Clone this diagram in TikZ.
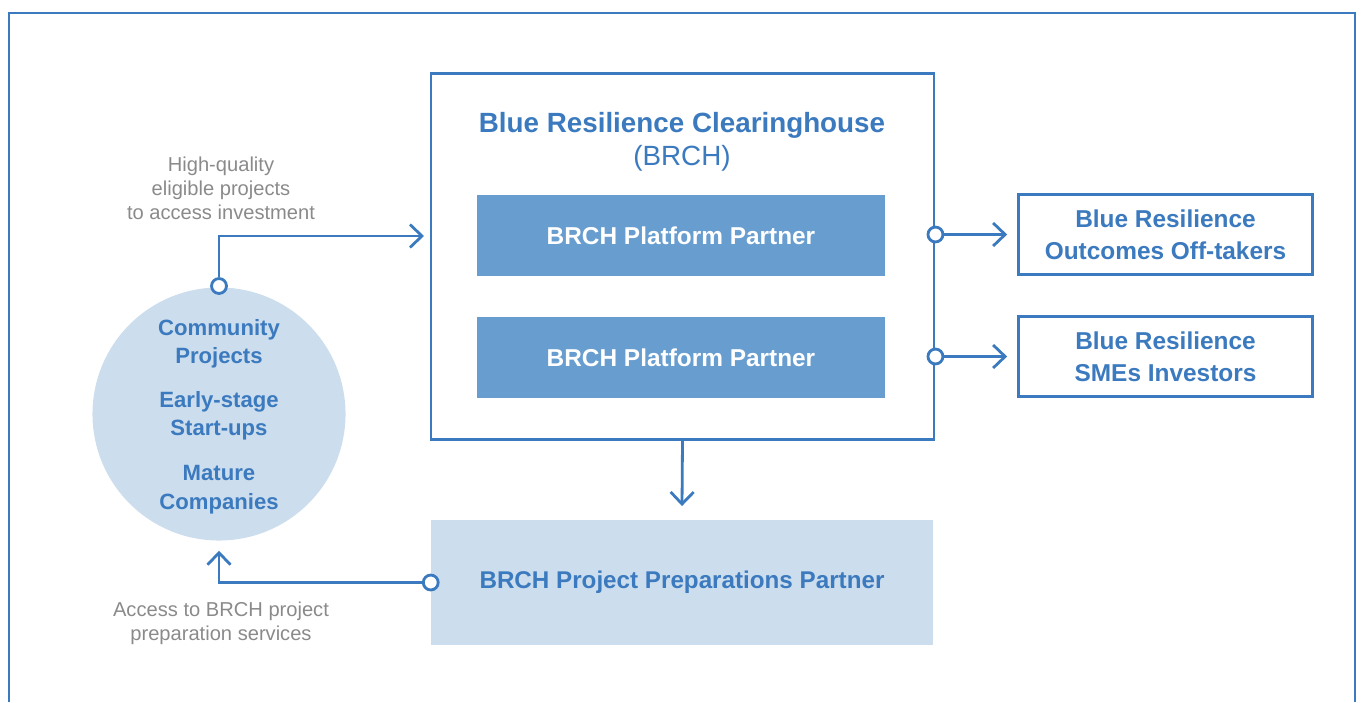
\documentclass[tikz,border=0pt]{standalone}
\usepackage{fontspec}
\setmainfont{Liberation Sans}
\usetikzlibrary{arrows.meta,positioning}
\definecolor{brchblue}{RGB}{59,122,190}
\definecolor{brchmid}{RGB}{104,157,207}
\definecolor{brchlight}{RGB}{204,221,237}
\definecolor{brchgray}{RGB}{138,138,140}
\tikzset{
  frameline/.style={draw=brchblue,line width=2.8bp},
  mainbox/.style={frameline,fill=white,inner sep=0pt},
  partnerbox/.style={fill=brchmid,text=white,inner sep=0pt,
    minimum width=410,minimum height=81,
    font=\bfseries\fontsize{24.5}{30}\selectfont},
  outbox/.style={frameline,fill=white,text=brchblue,inner sep=0pt,align=center,
    minimum width=295,minimum height=81,
    font=\bfseries\fontsize{24.5}{32}\selectfont},
  prepbox/.style={fill=brchlight,text=brchblue,inner sep=0pt,
    minimum width=504,minimum height=125,
    font=\bfseries\fontsize{24.3}{30}\selectfont},
  firmsbubble/.style={circle,fill=brchlight,inner sep=0pt,minimum size=254},
  bubbletext/.style={text=brchblue,align=center,
    font=\bfseries\fontsize{22.2}{28.5}\selectfont},
  note/.style={text=brchgray,align=center,font=\fontsize{20.2}{24}\selectfont},
  dot/.style={circle,draw=brchblue,line width=2.8bp,fill=white,
    inner sep=0pt,minimum size=15},
  flow/.style={draw=brchblue,line width=2.8bp,
    -{Straight Barb[length=12bp,width=23bp]}}
}
\begin{document}
\begin{tikzpicture}[x=1bp,y=-1bp]
  \useasboundingbox (0,0) rectangle (1361,702);
  % outer frame, open at the bottom
  \draw[frameline] (9,702) -- (9,13) -- (1355,13) -- (1355,702);
  % clearinghouse and its partners
  \node[mainbox,minimum width=505,minimum height=367] (brch) at (682.5,256.5) {};
  \node[text=brchblue,align=center,font=\fontsize{27.9}{33}\selectfont] (title) at (682,142)
    {\textbf{Blue Resilience Clearinghouse}\\(BRCH)};
  \node[partnerbox] (pA) at (681,235.5) {BRCH Platform Partner};
  \node[partnerbox] (pB) at (681,357.5) {BRCH Platform Partner};
  \node[prepbox] (prep) at (682,582.5) {BRCH Project Preparations Partner};
  % off-takers and investors
  \node[outbox] (offtake) at (1165.5,234.5) {Blue Resilience\\Outcomes Off-takers};
  \node[outbox] (smes) at (1165.5,356.5) {Blue Resilience\\SMEs Investors};
  % the companies
  \node[firmsbubble] (firms) at (219,414) {};
  \node[bubbletext] at (219,343.5) {Community\\Projects};
  \node[bubbletext] at (219,416) {Early-stage\\Start-ups};
  \node[bubbletext] at (219,489.5) {Mature\\Companies};
  % notes
  \node[note] (toinvest) at (221,188) {High-quality\\eligible projects\\to access investment};
  \node[note] (toprep) at (221,623) {Access to BRCH project\\preparation services};
  % connectors
  \coordinate (intake) at (424,236);
  \node[dot] (dA) at (brch.east |- offtake.west) {};
  \node[dot] (dB) at (brch.east |- smes.west) {};
  \node[dot] (dC) at (219,286) {};
  \node[dot] (dD) at (prep.west) {};
  \draw[flow] (dA.east) -- ([xshift=-10bp]offtake.west);
  \draw[flow] (dB.east) -- ([xshift=-10bp]smes.west);
  \draw[flow] (dC.north) |- (intake);
  \draw[flow] (brch.south) -- ([yshift=14bp]prep.north);
  \draw[flow] (dD.west) -| ([yshift=-10bp]firms.south);
\end{tikzpicture}
\end{document}
